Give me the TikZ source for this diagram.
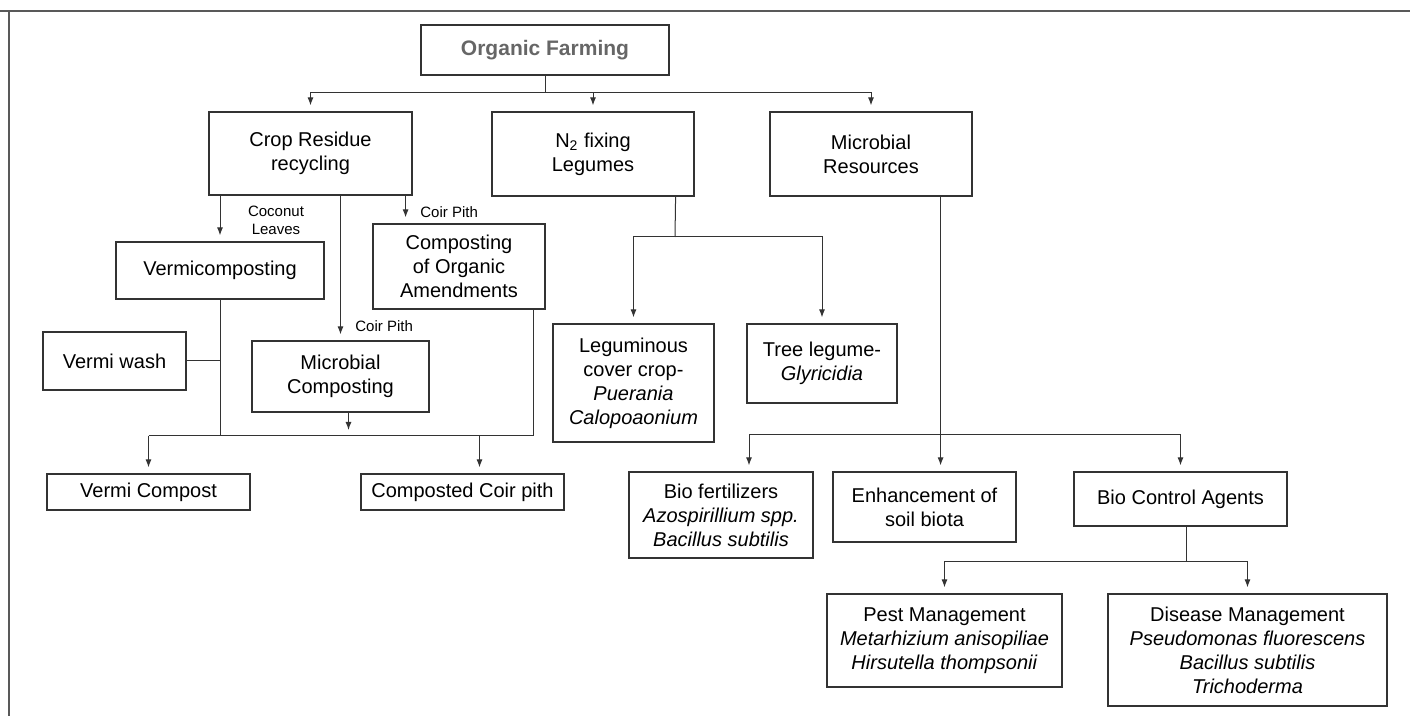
\documentclass[tikz,border=0pt]{standalone}
\usepackage{fontspec}
\setmainfont{Liberation Sans}
\usetikzlibrary{positioning,arrows.meta,calc}

\begin{document}
\begin{tikzpicture}[x=0.5pt, y=-0.5pt,
  box/.style={draw=black!80, line width=0.6pt, align=center, inner sep=2pt,
    font=\fontsize{10}{12}\selectfont},
  lbl/.style={font=\fontsize{7.5}{9}\selectfont, align=center, inner sep=0pt},
  arrow/.style={-{Latex[length=4pt,width=3pt]}, draw=black!80, line width=0.5pt, shorten >=3pt},
  link/.style={draw=black!80, line width=0.5pt}
]
\useasboundingbox (0,0) rectangle (1410,716);
% frame
\draw[black!65, line width=1pt] (0,11) -- (1410,11);
\draw[black!65, line width=1pt] (9,11) -- (9,716);

% top
\node[box, minimum width=124pt, minimum height=25pt, text=black!60,
  font=\fontsize{10.5}{12}\selectfont\bfseries] (org) at (545,50) {Organic Farming};
\node[box, minimum width=101.5pt, minimum height=41.5pt] (crop) at (310.5,153.5) {Crop Residue\\recycling};
\node[box, minimum width=101pt, minimum height=42pt] (nfix) at (593,154) {N\textsubscript{2} fixing\\Legumes};
\node[box, minimum width=101pt, minimum height=42pt] (micres) at (871,154) {Microbial\\Resources};

% crop residue branch
\node[box, minimum width=104pt, minimum height=28.5pt] (vermi) at (220,270.5) {Vermicomposting};
\node[box, minimum width=86pt, minimum height=42.5pt] (orgamend) at (459,266.5) {Composting\\of Organic\\Amendments};
\node[box, minimum width=71.5pt, minimum height=29pt] (vwash) at (114.5,361) {Vermi wash};
\node[box, minimum width=88.5pt, minimum height=35.5pt] (mcomp) at (340.5,376.5) {Microbial\\Composting};
\node[box, minimum width=101.5pt, minimum height=18pt] (vcomp) at (148.5,492) {Vermi Compost};
\node[box, minimum width=101.5pt, minimum height=18pt] (coirp) at (462.5,492) {Composted Coir pith};
\node[lbl] (coco) at (276,220) {Coconut\\Leaves};
\node[lbl, anchor=west] (cpith1) at (355,326) {Coir Pith};
\node[lbl, anchor=west] (cpith2) at (420,212) {Coir Pith};

% legumes branch
\node[box, minimum width=80.5pt, minimum height=59pt] (legcov) at (633.5,383)
  {Leguminous\\cover crop-\\\textit{Puerania}\\\textit{Calopoaonium}};
\node[box, minimum width=75pt, minimum height=39.5pt] (treeleg) at (822,363.5) {Tree legume-\\\textit{Glyricidia}};

% microbial branch
\node[box, minimum width=92pt, minimum height=43pt] (biofert) at (721,515)
  {Bio fertilizers\\\textit{Azospirillium spp.}\\\textit{Bacillus subtilis}};
\node[box, minimum width=91.5pt, minimum height=35pt] (enhance) at (924.5,507) {Enhancement of\\soil biota};
\node[box, minimum width=106.5pt, minimum height=27pt] (bioctrl) at (1180.5,499) {Bio Control Agents};
\node[box, minimum width=117.5pt, minimum height=46.5pt] (pest) at (944.5,640.5)
  {Pest Management\\\textit{Metarhizium anisopiliae}\\\textit{Hirsutella thompsonii}};
\node[box, minimum width=139.5pt, minimum height=56pt] (disease) at (1247.5,650)
  {Disease Management\\\textit{Pseudomonas fluorescens}\\\textit{Bacillus subtilis}\\\textit{Trichoderma}};

% connectors
\coordinate (tbus) at (545,93);
\draw[link] (org.south) -- (tbus);
\draw[arrow] (tbus) -| (crop);
\draw[arrow] (tbus) -| (nfix);
\draw[arrow] (tbus) -| (micres);

\draw[arrow] (crop.south -| vermi.north) -- (vermi.north);
\draw[arrow] (crop.south -| mcomp.north) -- (mcomp.north);
\coordinate (cpx) at ([xshift=-3.5pt]crop.south east);
\draw[arrow] (cpx) -- (cpx |- orgamend.north);

\coordinate (cbus) at (340,436);
\coordinate (oax) at ([xshift=-6pt]orgamend.south east);
\draw[link] (vermi.south) -- (vermi.south |- cbus);
\draw[link] (vwash.east) -- (vwash.east -| vermi.south);
\draw[link] (vcomp.north |- cbus) -- (oax |- cbus) -- (oax);
\draw[arrow] ([xshift=4pt]mcomp.south) -- ([xshift=4pt]mcomp.south |- cbus);
\draw[arrow] (vcomp.north |- cbus) -- (vcomp.north);
\draw[arrow] ([xshift=8.5pt]coirp.north |- cbus) -- ([xshift=8.5pt]coirp.north);

\coordinate (nx) at ([xshift=-9.5pt]nfix.south east);
\coordinate (lbus) at (675,237);
\draw[link] (nx) -- (lbus);
\draw[arrow] (lbus) -| (legcov);
\draw[arrow] (lbus) -| (treeleg);

\coordinate (mx) at ([xshift=-16pt]micres.south east);
\coordinate (mbus) at (940,435);
\draw[arrow] (mx) -- (mx |- enhance.north);
\draw[arrow] (mbus) -| ([xshift=14pt]biofert.north);
\draw[arrow] (mbus) -| (bioctrl);

\coordinate (bbus) at (1186,562);
\draw[link] (bioctrl.south -| bbus) -- (bbus);
\draw[arrow] (bbus) -| (pest);
\draw[arrow] (bbus) -| (disease);
\end{tikzpicture}
\end{document}
